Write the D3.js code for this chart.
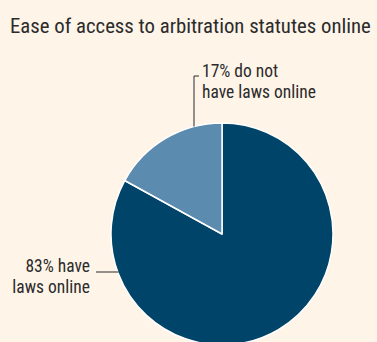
<!DOCTYPE html>
<html>
<head>
<meta charset="utf-8">
<script src="https://cdn.jsdelivr.net/npm/d3@7"></script>
<style>
  html, body { margin: 0; padding: 0; background: #FEF4E8; }
  svg { display: block; }
  text { font-family: "Liberation Sans Narrow", "Roboto Condensed", "Arial Narrow", sans-serif; fill: #2b2b2b; }
</style>
</head>
<body>
<svg id="chart" width="377" height="342"></svg>
<script>
// Share of jurisdictions by online availability of arbitration laws
const categories = ["have laws online", "do not have laws online"];
const values = [83, 17];
const colors = ["#004569", "#5B8BAE"];
const labelLines = [["83% have", "laws online"], ["17% do not", "have laws online"]];
const title = "Ease of access to arbitration statutes online";

const width = 377, height = 342;
const cx = 222, cy = 234, radius = 111;

const svg = d3.select("#chart");

svg.append("rect").attr("width", width).attr("height", height).attr("fill", "#FEF4E8");

// Size a text so its natural width matches the room it should fill
function fitFont(sel, target, base) {
  sel.attr("font-size", base);
  const w = sel.node().getComputedTextLength();
  const size = Math.min(base * 1.3, base * target / w);
  sel.attr("font-size", size);
  return size;
}

const titleText = svg.append("text")
  .attr("x", 10).attr("y", 33)
  .text(title);
fitFont(titleText, 361, 22);

const pie = d3.pie().sort(null).startAngle(0).endAngle(2 * Math.PI);
const arcs = pie(values);
const arc = d3.arc().innerRadius(0).outerRadius(radius);

const g = svg.append("g").attr("transform", `translate(${cx},${cy})`);
g.selectAll("path")
  .data(arcs)
  .join("path")
  .attr("d", arc)
  .attr("fill", (d, i) => colors[i])
  .attr("stroke", "#ffffff")
  .attr("stroke-width", 1.5)
  .attr("stroke-linejoin", "round");

// Label font size: widest label line spans about 114px
const probe = svg.append("text").text(labelLines[1][1]);
const labelSize = fitFont(probe, 114, 16);
probe.remove();

const leader = svg.append("g").attr("stroke", "#2b2b2b").attr("stroke-width", 1).attr("fill", "none");

// 17% callout: vertical line rising from the rim, short tick to the right
const smallX = 194;
const smallRimY = cy - Math.sqrt(radius * radius - (cx - smallX) * (cx - smallX));
leader.append("path")
  .attr("d", `M${smallX},${smallRimY} V76 H199`);

svg.append("text")
  .attr("font-size", labelSize)
  .selectAll("tspan")
  .data(labelLines[1])
  .join("tspan")
  .attr("x", 202)
  .attr("y", (d, i) => 77 + i * 21)
  .text(d => d);

// 83% callout: horizontal line meeting the left rim
const bigY = 272;
const bigRimX = cx - Math.sqrt(radius * radius - (bigY - cy) * (bigY - cy));
leader.append("path")
  .attr("d", `M96,${bigY} H${bigRimX + 1}`);

svg.append("text")
  .attr("font-size", labelSize)
  .attr("text-anchor", "end")
  .selectAll("tspan")
  .data(labelLines[0])
  .join("tspan")
  .attr("x", 90)
  .attr("y", (d, i) => 272 + i * 21)
  .text(d => d);
</script>
</body>
</html>
